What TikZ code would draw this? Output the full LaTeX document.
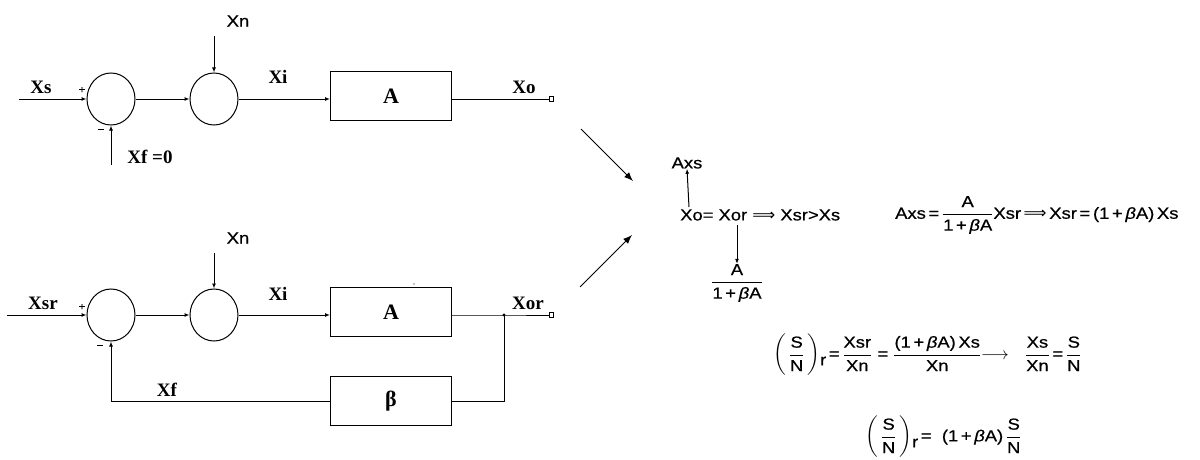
\documentclass[tikz,border=0pt]{standalone}
\usepackage{amsmath}
\usepackage{fontspec}
\setmainfont{Liberation Serif}
\setsansfont{Liberation Sans}[FakeStretch=1.15,FakeBold=0.6]
\newfontfamily\djv{DejaVu Sans}
\usetikzlibrary{shapes.geometric,arrows.meta}
\newcommand{\eqfont}{\sffamily\fontsize{16}{19}\selectfont}
\newcommand{\bA}{\text{\itshape β}}
\newcommand{\tx}[1]{\text{#1}}
\newcommand{\impl}{{\djv ⟹}}
\tikzset{
  wire/.style={line width=1pt},
  arr/.style={line width=1pt,-{Latex[length=5pt,width=4pt]}},
  bigarr/.style={line width=1pt,-{Latex[length=9pt,width=7pt]}},
  summer/.style={draw,ellipse,line width=1pt,minimum width=48pt,minimum height=52pt,inner sep=0pt},
  blk/.style={draw,rectangle,line width=1pt,minimum width=121pt,minimum height=49pt,inner sep=0pt,font=\bfseries\fontsize{22}{24}\selectfont},
  tlab/.style={font=\bfseries\fontsize{19}{22}\selectfont,inner sep=0pt},
  sgn/.style={font=\sffamily\fontsize{10}{10}\selectfont,inner sep=0pt},
  eqn/.style={font=\eqfont,inner sep=0pt},
  termsq/.style={draw,rectangle,line width=0.8pt,minimum width=4pt,minimum height=5pt,inner sep=0pt,fill=white},
}
\begin{document}
\begin{tikzpicture}[x=1pt,y=-1pt]
\useasboundingbox (0,0) rectangle (1200,460);
% ---------- top diagram ----------
\coordinate (in1) at (19,99);
\node[summer] (s1) at (111,99) {};
\node[summer] (s2) at (214,99) {};
\node[blk] (a1) at (391,96) {A};
\node[termsq] (t1) at (551,99) {};
\coordinate (n1) at (214,36);
\coordinate (f1) at (111,165);
\draw[arr] (in1) -- (s1.west);
\draw[arr] (s1.east) -- (s2.west);
\draw[arr] (s2.east) -- (s2.east -| a1.west);
\draw[wire] (a1.east |- t1.west) -- (t1.west);
\draw[arr] (n1) -- (s2.north);
\draw[arr] (f1) -- (s1.south);
\node[tlab] (lxs) at (41,87) {Xs};
\node[sgn] (p1) at (82,90) {+};
\node[sgn] (m1) at (101,131) {\textminus};
\node[tlab] (lxf0) at (150,157) {Xf =0};
\node[eqn] (lxn1) at (238,21) {Xn};
\node[tlab] (lxi1) at (278,77) {Xi};
\node[tlab] (lxo) at (524,87) {Xo};
% ---------- bottom diagram ----------
\coordinate (in2) at (7,315);
\node[summer] (s3) at (111,315) {};
\node[summer] (s4) at (214,315) {};
\node[blk] (a2) at (391,312) {A};
\node[blk] (b2) at (391,401) {β};
\coordinate (j) at (504,315);
\node[termsq] (t2) at (551,315) {};
\coordinate (n2) at (214,253);
\coordinate (fb) at (111,401);
\draw[arr] (in2) -- (s3.west);
\draw[arr] (s3.east) -- (s4.west);
\draw[arr] (s4.east) -- (s4.east -| a2.west);
\draw[wire] (a2.east |- j) -- (j) -- (t2.west);
\draw[wire] (j) |- (b2.east);
\draw[wire] (b2.west) -- (fb);
\draw[arr] (fb) -- (s3.south);
\draw[arr] (n2) -- (s4.north);
\fill (j) circle (1.6pt);
\fill (414,284) circle (0.7pt);
\node[tlab] (lxsr) at (43,303) {Xsr};
\node[sgn] (p2) at (82,307) {+};
\node[sgn] (m2) at (100,347) {\textminus};
\node[eqn] (lxn2) at (238,238) {Xn};
\node[tlab] (lxi2) at (278,294) {Xi};
\node[tlab] (lxor) at (528,303) {Xor};
\node[tlab] (lxf) at (167,390) {Xf};
% ---------- diagonal arrows ----------
\coordinate (d1s) at (581,129);
\coordinate (d1e) at (633,181);
\coordinate (d2s) at (580,287);
\coordinate (d2e) at (632,235);
\draw[bigarr] (d1s) -- (d1e);
\draw[bigarr] (d2s) -- (d2e);
% ---------- equations ----------
\node[eqn,anchor=west] (e1) at (680,215) {Xo=\ Xor \impl\ Xsr>Xs};
\node[eqn] (axs) at (687,163) {Axs};
\coordinate (xo) at (689,207);
\draw[arr] (xo) -- (axs.south);
\coordinate (xor) at (737,225);
\node[eqn] (fr1) at (737,283) {$\dfrac{\tx{A}}{\tx{1\,+\,}\bA\tx{A}}$};
\draw[arr] (xor) -- (fr1.north);
\node[eqn,anchor=west] (e2) at (895,215) {Axs\,=\,$\dfrac{\tx{A}}{\tx{1\,+\,}\bA\tx{A}}$Xsr\,\impl\,Xsr\,=\,(1\,+\,\textit{β}A)\,Xs};
\node[eqn,anchor=west] (e3) at (773,355) {$\left(\,\dfrac{\tx{S}}{\tx{N}}\,\right)$\raisebox{-6pt}{r}\,=\,$\dfrac{\tx{Xsr}}{\tx{Xn}}$\ =\ $\dfrac{\tx{(1\,+\,}\bA\tx{A)\,Xs}}{\tx{Xn}}$\ensuremath{\longrightarrow}\quad$\dfrac{\tx{Xs}}{\tx{Xn}}$\,=\,$\dfrac{\tx{S}}{\tx{N}}$};
\node[eqn,anchor=west] (e4) at (865,437) {$\left(\,\dfrac{\tx{S}}{\tx{N}}\,\right)$\raisebox{-6pt}{r}\,=\ \ (1\,+\,\textit{β}A)\,$\dfrac{\tx{S}}{\tx{N}}$};
\end{tikzpicture}
\end{document}
